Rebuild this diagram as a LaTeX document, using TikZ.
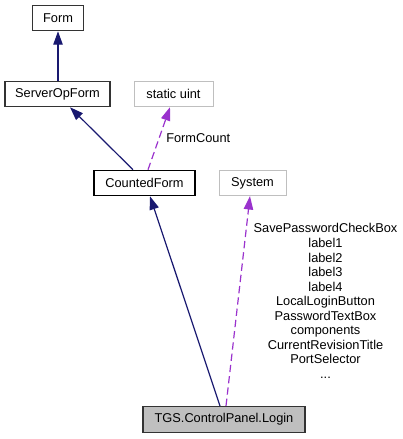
\documentclass[tikz,border=0pt]{standalone}
\usepackage{fontspec}
\setmainfont{Liberation Sans}
\usetikzlibrary{arrows.meta,calc}
\definecolor{inhcol}{HTML}{191970}
\definecolor{usecol}{HTML}{9A32CD}
\definecolor{greybd}{HTML}{BFBFBF}
\definecolor{loginfill}{HTML}{BFBFBF}
\begin{document}
\begin{tikzpicture}[x=0.75pt,y=-0.75pt,
  every node/.style={font=\fontsize{9.6}{10.9}\selectfont},
  cls/.style={draw=black!80,line width=0.9pt,inner sep=0pt,minimum height=19pt},
  ext/.style={draw=greybd,line width=0.75pt,inner sep=0pt,minimum height=19pt},
  inh/.style={draw=inhcol,line width=0.9pt,-{Triangle[length=10pt,width=7pt]},fill=inhcol},
  use/.style={draw=usecol,line width=0.9pt,dash pattern=on 5.5pt off 3pt,-{Triangle[length=10pt,width=7pt]}},
  lbl/.style={inner sep=0pt,align=center}]
\useasboundingbox (0,0) rectangle (403,439);
\node[cls,minimum width=38pt] (form) at (58,18) {Form};
\node[cls,minimum width=78.75pt] (sof) at (57.5,94) {ServerOpForm};
\node[ext,minimum width=59.25pt] (suint) at (173.5,94) {static uint};
\node[cls,draw=black,minimum width=75.75pt] (cf) at (144.5,183) {CountedForm};
\node[ext,minimum width=50.25pt] (sys) at (252.5,183) {System};
\node[cls,fill=loginfill,minimum width=121.5pt,minimum height=19.5pt] (login) at (224,419.5) {TGS.ControlPanel.Login};
\draw[inh] (sof.north -| form.south) -- (form.south);
\draw[inh] ($(cf.north)+(-11.5,0)$) -- ($(sof.south)+(12.5,0)$);
\draw[inh] ($(login.north)+(-4,0)$) -- ($(cf.south)+(5.5,0)$);
\draw[use] ($(cf.north)+(3.5,0)$) -- ($(suint.south)+(-3.5,0)$);
\draw[use] ($(login.north)+(2,0)$) -- ($(sys.south)+(-2.5,0)$);
\node[lbl,anchor=west] (fcl) at (166,138) {FormCount};
\node[lbl] (mem) at (325.5,301) {SavePasswordCheckBox\\label1\\label2\\label3\\label4\\LocalLoginButton\\PasswordTextBox\\components\\CurrentRevisionTitle\\PortSelector\\...};
\end{tikzpicture}
\end{document}
